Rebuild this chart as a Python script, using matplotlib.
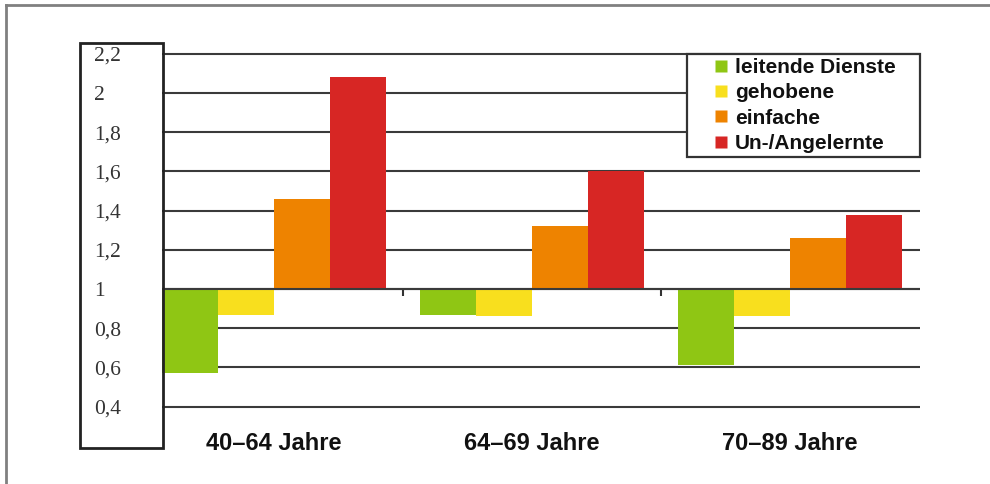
import matplotlib.pyplot as plt
from matplotlib.patches import Rectangle
from matplotlib.lines import Line2D
import numpy as np

# data
groups = ["40\u201364 Jahre", "64\u201369 Jahre", "70\u201389 Jahre"]
series = ["leitende Dienste", "gehobene", "einfache", "Un-/Angelernte"]
leitende = [0.57, 0.87, 0.61]
gehobene = [0.87, 0.86, 0.86]
einfache = [1.46, 1.32, 1.26]
angelernte = [2.08, 1.60, 1.38]
colors = ["#8fc614", "#f8df1e", "#ee8300", "#d72624"]
yticks = [0.4, 0.6, 0.8, 1.0, 1.2, 1.4, 1.6, 1.8, 2.0, 2.2]
baseline = 1.0

fig = plt.figure(figsize=(9.9, 4.84), dpi=100)
W, H = 990, 484
ax = fig.add_axes([162 / W, 1 - 448 / H, (920 - 162) / W, (448 - 43) / H])

x = np.arange(len(groups))
w = 56 / 258
values = [leitende, gehobene, einfache, angelernte]
for i, vals in enumerate(values):
    heights = [v - baseline for v in vals]
    ax.bar(x + (i - 1.5) * w, heights, w, bottom=baseline, color=colors[i],
           zorder=2, linewidth=0)

ax.set_xlim(-0.434, 2.504)
ax.set_ylim(0.189, 2.255)

# y ticks and grid
ax.set_yticks(yticks)
ax.set_yticklabels([("%g" % t).replace(".", ",") for t in yticks],
                   family="Liberation Serif", fontsize=15.5, color="#333333")
ax.tick_params(axis="y", length=0, pad=49)
for lbl in ax.get_yticklabels():
    lbl.set_horizontalalignment("left")
ax.yaxis.grid(True, color="#3a3a3a", linewidth=1.5, zorder=1)
ax.set_axisbelow(True)
ax.axhline(baseline, color="#3a3a3a", linewidth=1.5, zorder=3)

for s in ax.spines.values():
    s.set_visible(False)

# small ticks between groups on the baseline
ax.spines["bottom"].set_position(("data", baseline))
ax.set_xticks([0.5, 1.5])
ax.set_xticklabels([])
ax.tick_params(axis="x", direction="out", length=5, width=1.5, color="#333333")

for i, g in enumerate(groups):
    ax.text(x[i], 0.012, g, transform=ax.get_xaxis_transform(), ha="center",
            va="center", fontsize=17, fontweight="bold",
            family="Liberation Sans", color="#111111")

# legend, square markers
handles = [Line2D([], [], linestyle="none", marker="s", markersize=8.6,
                  markerfacecolor=c, markeredgecolor="none") for c in colors]
leg = ax.legend(handles, series, loc="upper left",
                bbox_to_anchor=(0.6926, 0.7235, 0.3074, 0.2493), mode="expand",
                borderaxespad=0, fancybox=False, framealpha=1,
                edgecolor="#333333", handlelength=2.88, handletextpad=-0.77,
                labelspacing=0.3, borderpad=0.2,
                prop={"family": "Liberation Sans", "weight": "bold", "size": 15})
leg.get_frame().set_linewidth(1.6)
leg.set_zorder(5)
for t in leg.get_texts():
    t.set_color("#111111")

# box around the y labels
fig.patches.append(Rectangle((80 / W, 1 - 448 / H), (163 - 80) / W, (448 - 43) / H,
                             transform=fig.transFigure, fill=False,
                             edgecolor="#222222", linewidth=2))

# outer frame (top and left)
fig.add_artist(Line2D([6 / W, 1], [1 - 5 / H, 1 - 5 / H], color="#808080",
                      linewidth=2, transform=fig.transFigure))
fig.add_artist(Line2D([6 / W, 6 / W], [0, 1 - 5 / H], color="#808080",
                      linewidth=2, transform=fig.transFigure))

fig.savefig("out.png", dpi=100)
